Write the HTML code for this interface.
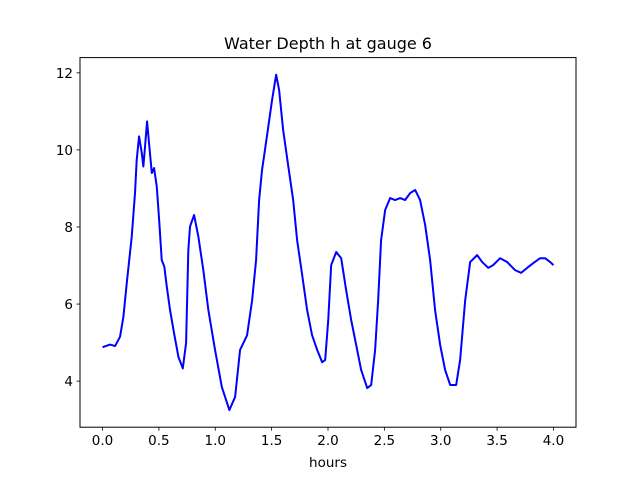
<!DOCTYPE html>
<html><head><meta charset="utf-8"><style>
body{margin:0;background:#fff;}
svg{display:block;font-family:"DejaVu Sans","Liberation Sans",sans-serif;}
</style></head><body>
<svg id="chart" width="640" height="480" viewBox="0 0 640 480" xmlns="http://www.w3.org/2000/svg">
<rect x="0" y="0" width="640" height="480" fill="#fff"/>
<text x="328" y="49" font-size="16" text-anchor="middle" fill="#000">Water Depth h at gauge 6</text>
<g id="plot"></g>
<rect x="80" y="57.6" width="496" height="369.6" fill="none" stroke="#000" stroke-width="1"/>
<text x="328" y="467" font-size="13.5" text-anchor="middle" fill="#000">hours</text>
</svg>
<script>
const hours=[0.00,0.067,0.111,0.155,0.185,0.215,0.259,0.288,0.303,0.324,0.348,0.362,0.377,0.395,0.415,0.437,0.457,0.481,0.504,0.525,0.548,0.570,0.599,0.634,0.673,0.712,0.741,0.761,0.776,0.812,0.850,0.894,0.939,0.998,1.058,1.125,1.176,1.220,1.282,1.327,1.362,1.389,1.415,1.460,1.504,1.540,1.566,1.602,1.646,1.691,1.726,1.771,1.815,1.859,1.904,1.948,1.975,2.002,2.028,2.073,2.117,2.161,2.206,2.250,2.294,2.348,2.383,2.418,2.445,2.471,2.507,2.551,2.595,2.640,2.684,2.729,2.773,2.817,2.862,2.906,2.950,2.995,3.039,3.084,3.137,3.172,3.217,3.261,3.323,3.368,3.421,3.465,3.527,3.589,3.660,3.713,3.767,3.820,3.882,3.926,3.971,4.00];
const depth=[4.88,4.95,4.91,5.15,5.67,6.55,7.75,8.88,9.74,10.35,9.92,9.57,10.09,10.74,10.09,9.40,9.53,9.05,8.10,7.14,6.97,6.45,5.84,5.25,4.63,4.33,4.99,7.40,8.01,8.31,7.75,6.88,5.84,4.81,3.85,3.25,3.59,4.81,5.19,6.10,7.14,8.70,9.48,10.39,11.30,11.95,11.56,10.52,9.61,8.70,7.66,6.75,5.84,5.19,4.81,4.49,4.55,5.58,7.01,7.35,7.19,6.36,5.58,4.94,4.29,3.82,3.90,4.81,6.10,7.66,8.44,8.75,8.70,8.75,8.70,8.88,8.96,8.70,8.05,7.14,5.84,4.94,4.29,3.90,3.90,4.55,6.10,7.09,7.27,7.09,6.94,7.01,7.19,7.09,6.88,6.81,6.94,7.06,7.19,7.19,7.09,7.01];
const xTicks=[0.0,0.5,1.0,1.5,2.0,2.5,3.0,3.5,4.0];
const xTickLabels=["0.0","0.5","1.0","1.5","2.0","2.5","3.0","3.5","4.0"];
const yTicks=[4,6,8,10,12];
const yTickLabels=["4","6","8","10","12"];
const X0=80,X1=576,Y0=427.2,Y1=57.6,XMIN=-0.2,XMAX=4.2,YMIN=2.805,YMAX=12.395;
function sx(v){return X0+(v-XMIN)/(XMAX-XMIN)*(X1-X0);}
function sy(v){return Y0-(v-YMIN)/(YMAX-YMIN)*(Y0-Y1);}
const NS="http://www.w3.org/2000/svg";
const g=document.getElementById('plot');
function el(t,a){const e=document.createElementNS(NS,t);for(const k in a)e.setAttribute(k,a[k]);g.appendChild(e);return e;}
xTicks.forEach((v,i)=>{
  const t=el('line',{x1:sx(v),x2:sx(v),y1:Y0,y2:Y0+3.5,stroke:'#000','stroke-width':0.8});
  
  
  const l=el('text',{x:sx(v),y:Y0+18,'font-size':13.5,'text-anchor':'middle',fill:'#000'});
  
  
  l.textContent=xTickLabels[i];
});
yTicks.forEach((v,i)=>{
  const t=el('line',{x1:X0-3.5,x2:X0,y1:sy(v),y2:sy(v),stroke:'#000','stroke-width':0.8});
  
  
  const l=el('text',{x:X0-7,y:sy(v)+5,'font-size':13.5,'text-anchor':'end',fill:'#000'});
  
  
  l.textContent=yTickLabels[i];
});
const d=hours.map((h,i)=>(i?'L':'M')+sx(h).toFixed(2)+' '+sy(depth[i]).toFixed(2)).join(' ');
const p=el('path',{d:d,fill:'none',stroke:'#0000ff','stroke-width':2,'stroke-linejoin':'round'});


</script>
</body></html>
